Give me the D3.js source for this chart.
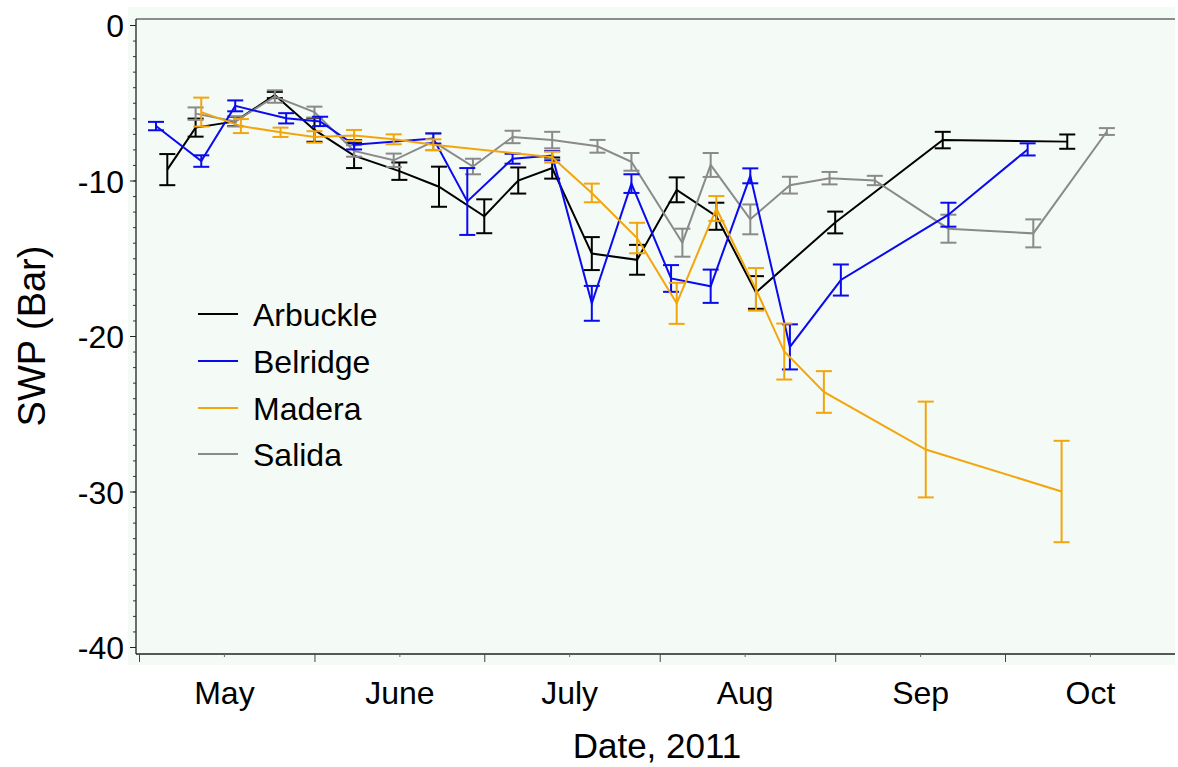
<!DOCTYPE html>
<html><head><meta charset="utf-8">
<script src="https://cdn.jsdelivr.net/npm/d3@7"></script>
<style>body{margin:0;background:#fff}svg{display:block;font-family:"Liberation Sans",Arial,sans-serif}</style>
</head><body><svg id="c" width="1178" height="767"></svg>
<script>
const seriesNames = ["Arbuckle", "Belridge", "Madera", "Salida"];
const seriesColors = ["#000000", "#0a0aef", "#F2A60C", "#8a8a8a"];

const arbuckleDates = ["2011-05-06","2011-05-11","2011-05-18","2011-05-25","2011-06-01","2011-06-08","2011-06-16","2011-06-23","2011-07-01","2011-07-07","2011-07-13","2011-07-20","2011-07-28","2011-08-04","2011-08-11","2011-08-18","2011-09-01","2011-09-20","2011-10-12"];
const arbuckleValues = [-9.3,-6.6,-6.2,-4.5,-6.75,-8.4,-9.4,-10.4,-12.3,-10.0,-9.2,-14.7,-15.1,-10.6,-12.3,-17.2,-12.7,-7.4,-7.5];
const arbuckleErrors = [1.0,0.58,0.3,0.2,0.76,0.8,0.56,1.29,1.09,0.84,0.68,1.06,0.96,0.8,0.87,1.05,0.7,0.53,0.46];

const belridgeDates = ["2011-05-04","2011-05-12","2011-05-18","2011-05-27","2011-06-02","2011-06-08","2011-06-22","2011-06-28","2011-07-06","2011-07-13","2011-07-20","2011-07-27","2011-08-03","2011-08-10","2011-08-17","2011-08-24","2011-09-02","2011-09-21","2011-10-05"];
const belridgeValues = [-6.5,-8.75,-5.2,-6.0,-6.2,-7.7,-7.3,-11.35,-8.6,-8.4,-17.9,-10.2,-16.3,-16.8,-9.7,-20.7,-16.4,-12.2,-8.0];
const belridgeErrors = [0.27,0.37,0.35,0.33,0.3,0.3,0.32,2.15,0.32,0.3,1.12,0.6,0.86,1.07,0.48,1.45,1.0,0.77,0.39];

const maderaDates = ["2011-05-12","2011-05-19","2011-05-26","2011-06-01","2011-06-08","2011-06-15","2011-06-22","2011-07-13","2011-07-20","2011-07-28","2011-08-04","2011-08-11","2011-08-18","2011-08-23","2011-08-30","2011-09-17","2011-10-11"];
const maderaValues = [-5.6,-6.5,-6.9,-7.2,-7.1,-7.35,-7.7,-8.5,-10.8,-13.7,-17.9,-11.8,-17.0,-21.0,-23.6,-27.3,-30.0];
const maderaErrors = [0.93,0.45,0.3,0.37,0.35,0.32,0.35,0.35,0.6,0.98,1.32,0.8,1.37,1.8,1.34,3.08,3.26];

const salidaDates = ["2011-05-11","2011-05-18","2011-05-25","2011-06-01","2011-06-08","2011-06-15","2011-06-22","2011-06-29","2011-07-06","2011-07-13","2011-07-21","2011-07-27","2011-08-05","2011-08-10","2011-08-17","2011-08-24","2011-08-31","2011-09-08","2011-09-21","2011-10-06","2011-10-19"];
const salidaValues = [-5.7,-6.2,-4.6,-5.6,-8.1,-8.7,-7.5,-9.1,-7.2,-7.4,-7.8,-8.8,-14.0,-9.0,-12.5,-10.3,-9.85,-10.0,-13.1,-13.4,-6.85];
const salidaErrors = [0.4,0.32,0.4,0.35,0.37,0.43,0.55,0.5,0.4,0.53,0.41,0.57,0.9,0.77,0.96,0.54,0.4,0.3,0.9,0.9,0.22];

const monthStarts = ["2011-05-01","2011-06-01","2011-07-01","2011-08-01","2011-09-01","2011-10-01"];
const monthMids = ["2011-05-16","2011-06-16","2011-07-16","2011-08-16","2011-09-16","2011-10-16"];
const monthLabels = ["May","June","July","Aug","Sep","Oct"];
const yMajorTicks = [0,-10,-20,-30,-40];
const yTickLabels = ["0","-10","-20","-30","-40"];
const xTitle = "Date, 2011";
const yTitle = "SWP (Bar)";

const parse = d3.timeParse("%Y-%m-%d");
const build = (dates, vals, errs) => dates.map((d, i) => ({date: parse(d), v: vals[i], e: errs[i]}));
const series = [
  build(arbuckleDates, arbuckleValues, arbuckleErrors),
  build(belridgeDates, belridgeValues, belridgeErrors),
  build(maderaDates, maderaValues, maderaErrors),
  build(salidaDates, salidaValues, salidaErrors)
];

const svg = d3.select("#c");
const L = 136, R = 1175, T = 19, B = 654;
const x = d3.scaleTime().domain([parse("2011-05-01"), parse("2011-10-01")]).range([139, 1005]);
const y = d3.scaleLinear().domain([0, -40]).range([25, 647]);

// background
svg.append("rect").attr("x", 128).attr("y", 7).attr("width", R - 128).attr("height", 665 - 7).attr("fill", "#f4faf6");

// frame lines
svg.append("line").attr("x1", L).attr("x2", L).attr("y1", T).attr("y2", B).attr("stroke", "#222").attr("stroke-width", 1.3);
svg.append("line").attr("x1", L).attr("x2", R).attr("y1", B).attr("y2", B).attr("stroke", "#222").attr("stroke-width", 1.3);
svg.append("line").attr("x1", L).attr("x2", R).attr("y1", T).attr("y2", T).attr("stroke", "#222").attr("stroke-width", 1);

// y axis
const yMinor = d3.range(0, -41, -1);
const yAxisMinor = d3.axisLeft(y).tickValues(yMinor).tickSize(3).tickFormat("");
const gyMin = svg.append("g").attr("transform", `translate(${L},0)`).call(yAxisMinor);
gyMin.select(".domain").remove();
gyMin.selectAll("line").attr("stroke", "#333");
const yAxis = d3.axisLeft(y).tickValues(yMajorTicks).tickSize(6).tickPadding(6)
  .tickFormat((d, i) => yTickLabels[i]);
const gy = svg.append("g").attr("transform", `translate(${L},0)`).call(yAxis);
gy.select(".domain").remove();
gy.selectAll("line").attr("stroke", "#222");
gy.selectAll("text").attr("font-size", 32).attr("font-family", '"Liberation Sans",Arial,sans-serif').attr("fill", "#000").attr("dy", "0.36em");

// x axis
const xAxisMajor = d3.axisBottom(x).tickValues(monthStarts.map(parse)).tickSize(8).tickFormat("");
const gxM = svg.append("g").attr("transform", `translate(0,${B})`).call(xAxisMajor);
gxM.select(".domain").remove();
gxM.selectAll("line").attr("stroke", "#444");
const xAxisMid = d3.axisBottom(x).tickValues(monthMids.map(parse)).tickSize(3).tickPadding(47)
  .tickFormat((d, i) => monthLabels[i]);
const gx = svg.append("g").attr("transform", `translate(0,${B})`).call(xAxisMid);
gx.select(".domain").remove();
gx.selectAll("line").attr("stroke", "#666");
gx.selectAll("text").attr("font-size", 32).attr("font-family", '"Liberation Sans",Arial,sans-serif').attr("fill", "#000").attr("dy", "0");

// titles
svg.append("text").attr("x", 657).attr("y", 758).attr("text-anchor", "middle").attr("font-size", 35).text(xTitle);
svg.append("text").attr("transform", "translate(45,336) rotate(-90)").attr("text-anchor", "middle").attr("font-size", 38).text(yTitle);

// series
const line = d3.line().x(d => x(d.date)).y(d => y(d.v));
const order = [0, 3, 1, 2];
order.forEach(si => {
  const g = svg.append("g");
  const c = seriesColors[si];
  g.append("path").datum(series[si]).attr("d", line).attr("fill", "none").attr("stroke", c).attr("stroke-width", 2);
  const eb = g.selectAll("g.eb").data(series[si]).join("g");
  eb.append("line").attr("x1", d => x(d.date)).attr("x2", d => x(d.date))
    .attr("y1", d => y(d.v + d.e)).attr("y2", d => y(d.v - d.e)).attr("stroke", c).attr("stroke-width", 2);
  eb.append("line").attr("x1", d => x(d.date) - 8).attr("x2", d => x(d.date) + 8)
    .attr("y1", d => y(d.v + d.e)).attr("y2", d => y(d.v + d.e)).attr("stroke", c).attr("stroke-width", 2);
  eb.append("line").attr("x1", d => x(d.date) - 8).attr("x2", d => x(d.date) + 8)
    .attr("y1", d => y(d.v - d.e)).attr("y2", d => y(d.v - d.e)).attr("stroke", c).attr("stroke-width", 2);
});

// legend
const leg = svg.append("g");
const legY = [314, 361, 408, 454];
seriesNames.forEach((n, i) => {
  leg.append("line").attr("x1", 198).attr("x2", 238).attr("y1", legY[i]).attr("y2", legY[i])
    .attr("stroke", seriesColors[i]).attr("stroke-width", 2);
  leg.append("text").attr("x", 253).attr("y", legY[i] + 12).attr("font-size", 32).attr("fill", "#000").text(n);
});
</script></body></html>
